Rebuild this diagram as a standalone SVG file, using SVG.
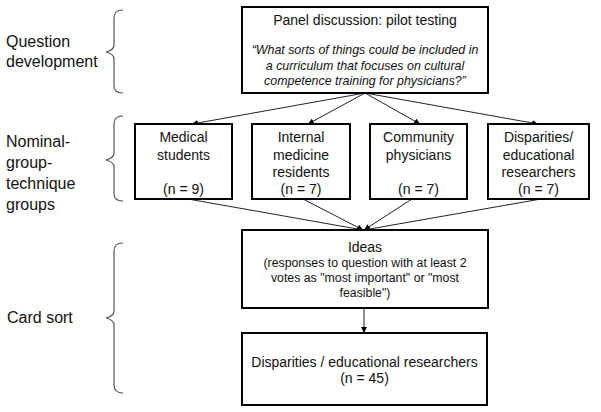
<svg xmlns="http://www.w3.org/2000/svg" width="601" height="412" viewBox="0 0 601 412">
<defs>
<style>
.box{fill:#fff;stroke:#000;stroke-width:2}
.brace{fill:none;stroke:#555;stroke-width:1.2}
.con{fill:none;stroke:#222;stroke-width:1;marker-end:url(#ah)}
text{font-family:"Liberation Sans",Arial,sans-serif;fill:#111}
.lab{font-size:16px}
.t14{font-size:14px;text-anchor:middle}
.t12{font-size:12.3px;text-anchor:middle}
.it{font-size:12.4px;font-style:italic;text-anchor:middle}
</style>
<marker id="ah" viewBox="0 0 10 10" refX="10" refY="5" markerWidth="6" markerHeight="6" orient="auto" markerUnits="userSpaceOnUse">
<path d="M0,0 L10,5 L0,10 z" fill="#000"/>
</marker>
</defs>
<rect width="601" height="412" fill="#fff"/>

<g id="labels">
<text class="lab" x="6" y="47">Question</text>
<text class="lab" x="6" y="67">development</text>
<text class="lab" x="6" y="147">Nominal-</text>
<text class="lab" x="6" y="168">group-</text>
<text class="lab" x="6" y="189">technique</text>
<text class="lab" x="6" y="210">groups</text>
<text class="lab" x="7" y="323">Card sort</text>
</g>

<g id="braces">
<path class="brace" d="M123,10 Q114,10 114,18 L114,45 Q114,50 106,52 Q114,54 114,59 L114,86 Q114,93 123,93"/>
<path class="brace" d="M123,116 Q114,116 114,124 L114,153 Q114,158 106,160 Q114,162 114,167 L114,194 Q114,201 123,201"/>
<path class="brace" d="M123,243 Q114,243 114,251 L114,311 Q114,316 106,318 Q114,320 114,325 L114,385 Q114,393 123,393"/>
</g>

<g id="connectors">
<line class="con" x1="365" y1="93" x2="192" y2="124"/>
<line class="con" x1="365" y1="93" x2="308" y2="124"/>
<line class="con" x1="365" y1="93" x2="420" y2="124"/>
<line class="con" x1="365" y1="93" x2="538" y2="124"/>
<line class="con" x1="188" y1="199" x2="363" y2="230"/>
<line class="con" x1="303" y1="199" x2="363" y2="230"/>
<line class="con" x1="412" y1="199" x2="364" y2="230"/>
<line class="con" x1="541" y1="199" x2="364" y2="230"/>
<line class="con" x1="364" y1="308" x2="364" y2="333"/>
</g>

<g id="panel">
<rect class="box" x="242" y="7" width="246" height="86"/>
<text class="t14" x="365" y="25">Panel discussion: pilot testing</text>
<text class="it" x="365" y="54">“What sorts of things could be included in</text>
<text class="it" x="365" y="69.5">a curriculum that focuses on cultural</text>
<text class="it" x="365" y="85">competence training for physicians?”</text>
</g>

<g id="medical">
<rect class="box" x="135" y="124" width="97" height="75"/>
<text class="t14" x="183.5" y="142">Medical</text>
<text class="t14" x="183.5" y="159.5">students</text>
<text class="t14" x="183.5" y="194">(n = 9)</text>
</g>

<g id="internal">
<rect class="box" x="252" y="124" width="98" height="75"/>
<text class="t14" x="301" y="142">Internal</text>
<text class="t14" x="301" y="159.5">medicine</text>
<text class="t14" x="301" y="177">residents</text>
<text class="t14" x="301" y="194">(n = 7)</text>
</g>

<g id="community">
<rect class="box" x="370" y="124" width="97" height="75"/>
<text class="t14" x="418.5" y="142">Community</text>
<text class="t14" x="418.5" y="159.5">physicians</text>
<text class="t14" x="418.5" y="194">(n = 7)</text>
</g>

<g id="disparities">
<rect class="box" x="488" y="124" width="101" height="75"/>
<text class="t14" x="538.5" y="142">Disparities/</text>
<text class="t14" x="538.5" y="159.5">educational</text>
<text class="t14" x="538.5" y="177">researchers</text>
<text class="t14" x="538.5" y="194">(n = 7)</text>
</g>

<g id="ideas">
<rect class="box" x="242" y="230" width="246" height="78"/>
<text class="t14" x="365" y="252">Ideas</text>
<text class="t12" x="365" y="267">(responses to question with at least 2</text>
<text class="t12" x="365" y="282">votes as "most important" or "most</text>
<text class="t12" x="365" y="297">feasible")</text>
</g>

<g id="researchers">
<rect class="box" x="242" y="333" width="245" height="72"/>
<text class="t14" x="364.5" y="367">Disparities / educational researchers</text>
<text class="t14" x="364.5" y="383">(n = 45)</text>
</g>
</svg>
